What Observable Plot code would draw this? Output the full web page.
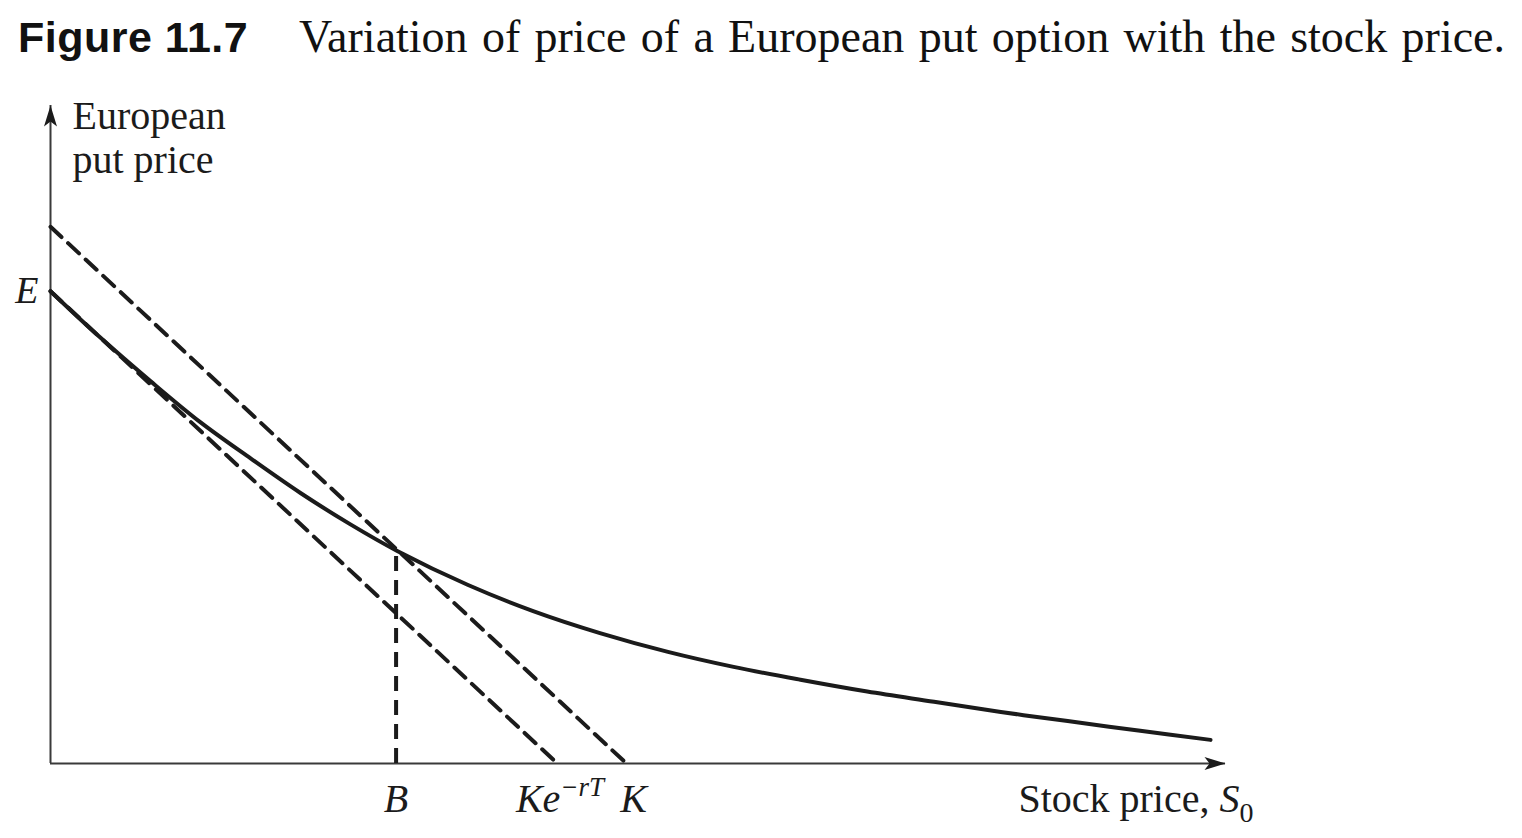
<!DOCTYPE html>
<html><head><meta charset="utf-8">
<script src="https://cdn.jsdelivr.net/npm/d3@7"></script>
<script src="https://cdn.jsdelivr.net/npm/@observablehq/plot@0.6"></script>
<style>
html,body{margin:0;padding:0;background:#fff;}
#wrap{position:relative;width:1522px;height:838px;overflow:hidden;background:#fff;}
.t1{position:absolute;left:18px;top:15.6px;font:bold 43px/1 "Liberation Sans",Arial,sans-serif;color:#111;white-space:nowrap;letter-spacing:0.5px;}
.t2{position:absolute;left:299px;top:13.5px;font:46px/1 "Liberation Serif","Times New Roman",serif;color:#111;white-space:nowrap;word-spacing:2.8px;}
#chart{position:absolute;left:0;top:80px;}
</style></head><body>
<div id="wrap">
  <div class="t1">Figure 11.7</div>
  <div class="t2">Variation of price of a European put option with the stock price.</div>
  <div id="chart"></div>
</div>
<script>
// ---- data ----
const stockPrice = [0, 4.3, 8.7, 13.0, 17.4, 21.7, 26.0, 30.1, 36.2, 41.9, 47.7, 53.6, 59.3, 65.1, 70.9, 76.7, 82.5, 88.3, 94.6, 100.7];
const putPrice   = [44.0, 39.7, 35.6, 31.8, 28.4, 25.2, 22.3, 19.8, 16.65, 14.2, 12.15, 10.4, 9.0, 7.8, 6.7, 5.75, 4.8, 3.95, 3.05, 2.2];
const K = 50;        // strike
const KerT = 44;     // discounted strike K e^{-rT}
const B = 30;        // point B
const E = 44;        // intercept E
const xMax = 102;    // end of x axis arrow
const yMax = 61.3;   // end of y axis arrow
const yAxisLabel = "European\nput price";
const xAxisLabel = "Stock price,";
const xAxisSymbol = "S";
const xAxisSub = "0";
const xTickLabels = ["B", "Ke", "K"];
const xTickValues = [B, KerT, K];
const superLabel = "\u2212rT";

// ---- derived tables ----
const curve = stockPrice.map((s, i) => ({x: s, y: putPrice[i]}));
const upperBound = [{x: 0, y: K}, {x: K, y: 0}];
const lowerBound = [{x: 0, y: KerT}, {x: KerT, y: 0}];
const ticks = xTickLabels.map((t, i) => ({x: xTickValues[i], t}));

const ink = "#1b1b1b";
const axisInk = "#3a3a3a";
const dash = "15,9";

const arrowHead = {
  draw(ctx) {
    ctx.moveTo(0, 0);
    ctx.lineTo(6.5, 21);
    ctx.lineTo(0, 16);
    ctx.lineTo(-6.5, 21);
    ctx.closePath();
  }
};

const plot = Plot.plot({
  width: 1522,
  height: 758,
  marginLeft: 50,
  marginRight: 297,
  marginTop: 25,
  marginBottom: 75,
  x: {domain: [0, xMax], axis: null},
  y: {domain: [0, yMax], axis: null},
  style: {fontFamily: "'Liberation Serif', 'Times New Roman', serif", fontSize: "40px", color: ink, background: "#fff", overflow: "visible"},
  marks: [
    Plot.ruleY([0], {stroke: axisInk, strokeWidth: 2}),
    Plot.ruleX([0], {stroke: axisInk, strokeWidth: 2}),
    Plot.dot([{x: xMax, y: 0, a: 90}, {x: 0, y: yMax, a: 0}], {x: "x", y: "y", rotate: "a", symbol: arrowHead, fill: ink, stroke: "none"}),
    Plot.line(upperBound, {x: "x", y: "y", stroke: ink, strokeWidth: 4, strokeDasharray: dash}),
    Plot.line(lowerBound, {x: "x", y: "y", stroke: ink, strokeWidth: 4, strokeDasharray: dash}),
    Plot.ruleX([B], {y1: 0, y2: K - B, stroke: ink, strokeWidth: 4, strokeDasharray: dash}),
    Plot.line(curve, {x: "x", y: "y", curve: "catmull-rom", stroke: ink, strokeWidth: 4}),
    // y axis label
    Plot.text([yAxisLabel], {frameAnchor: "top-left", textAnchor: "start", lineAnchor: "top", lineHeight: 1.1, dx: 22, dy: -8, fill: ink}),
    // E
    Plot.text([{x: 0, y: E, t: "E"}], {x: "x", y: "y", text: "t", textAnchor: "end", dx: -12, fontStyle: "italic", fontSize: 38, fill: ink}),
    // tick labels
    Plot.text(ticks.filter(d => d.t === "B"), {x: "x", y: 0, text: "t", lineAnchor: "top", dy: 20, fontStyle: "italic", fill: ink}),
    Plot.text(ticks.filter(d => d.t === "K"), {x: "x", y: 0, text: "t", lineAnchor: "top", dy: 20, dx: 7, fontStyle: "italic", fill: ink}),
    Plot.text(ticks.filter(d => d.t === "Ke"), {x: "x", y: 0, text: "t", textAnchor: "end", lineAnchor: "top", dy: 20, dx: 3, fontStyle: "italic", fill: ink}),
    Plot.text([{x: KerT, t: superLabel}], {x: "x", y: 0, text: "t", textAnchor: "start", lineAnchor: "top", dy: 13, dx: 3, fontStyle: "italic", fontSize: 27, fill: ink}),
    // x axis label
    Plot.text([{x: xMax, t: xAxisLabel}], {x: "x", y: 0, text: "t", textAnchor: "end", lineAnchor: "top", dy: 20, dx: -16, fill: ink}),
    Plot.text([{x: xMax, t: xAxisSymbol}], {x: "x", y: 0, text: "t", textAnchor: "start", lineAnchor: "top", dy: 20, dx: -6, fontStyle: "italic", fill: ink}),
    Plot.text([{x: xMax, t: xAxisSub}], {x: "x", y: 0, text: "t", textAnchor: "start", lineAnchor: "top", dy: 39, dx: 14, fontSize: 28, fill: ink})
  ]
});
document.getElementById("chart").appendChild(plot);
</script>
</body></html>
